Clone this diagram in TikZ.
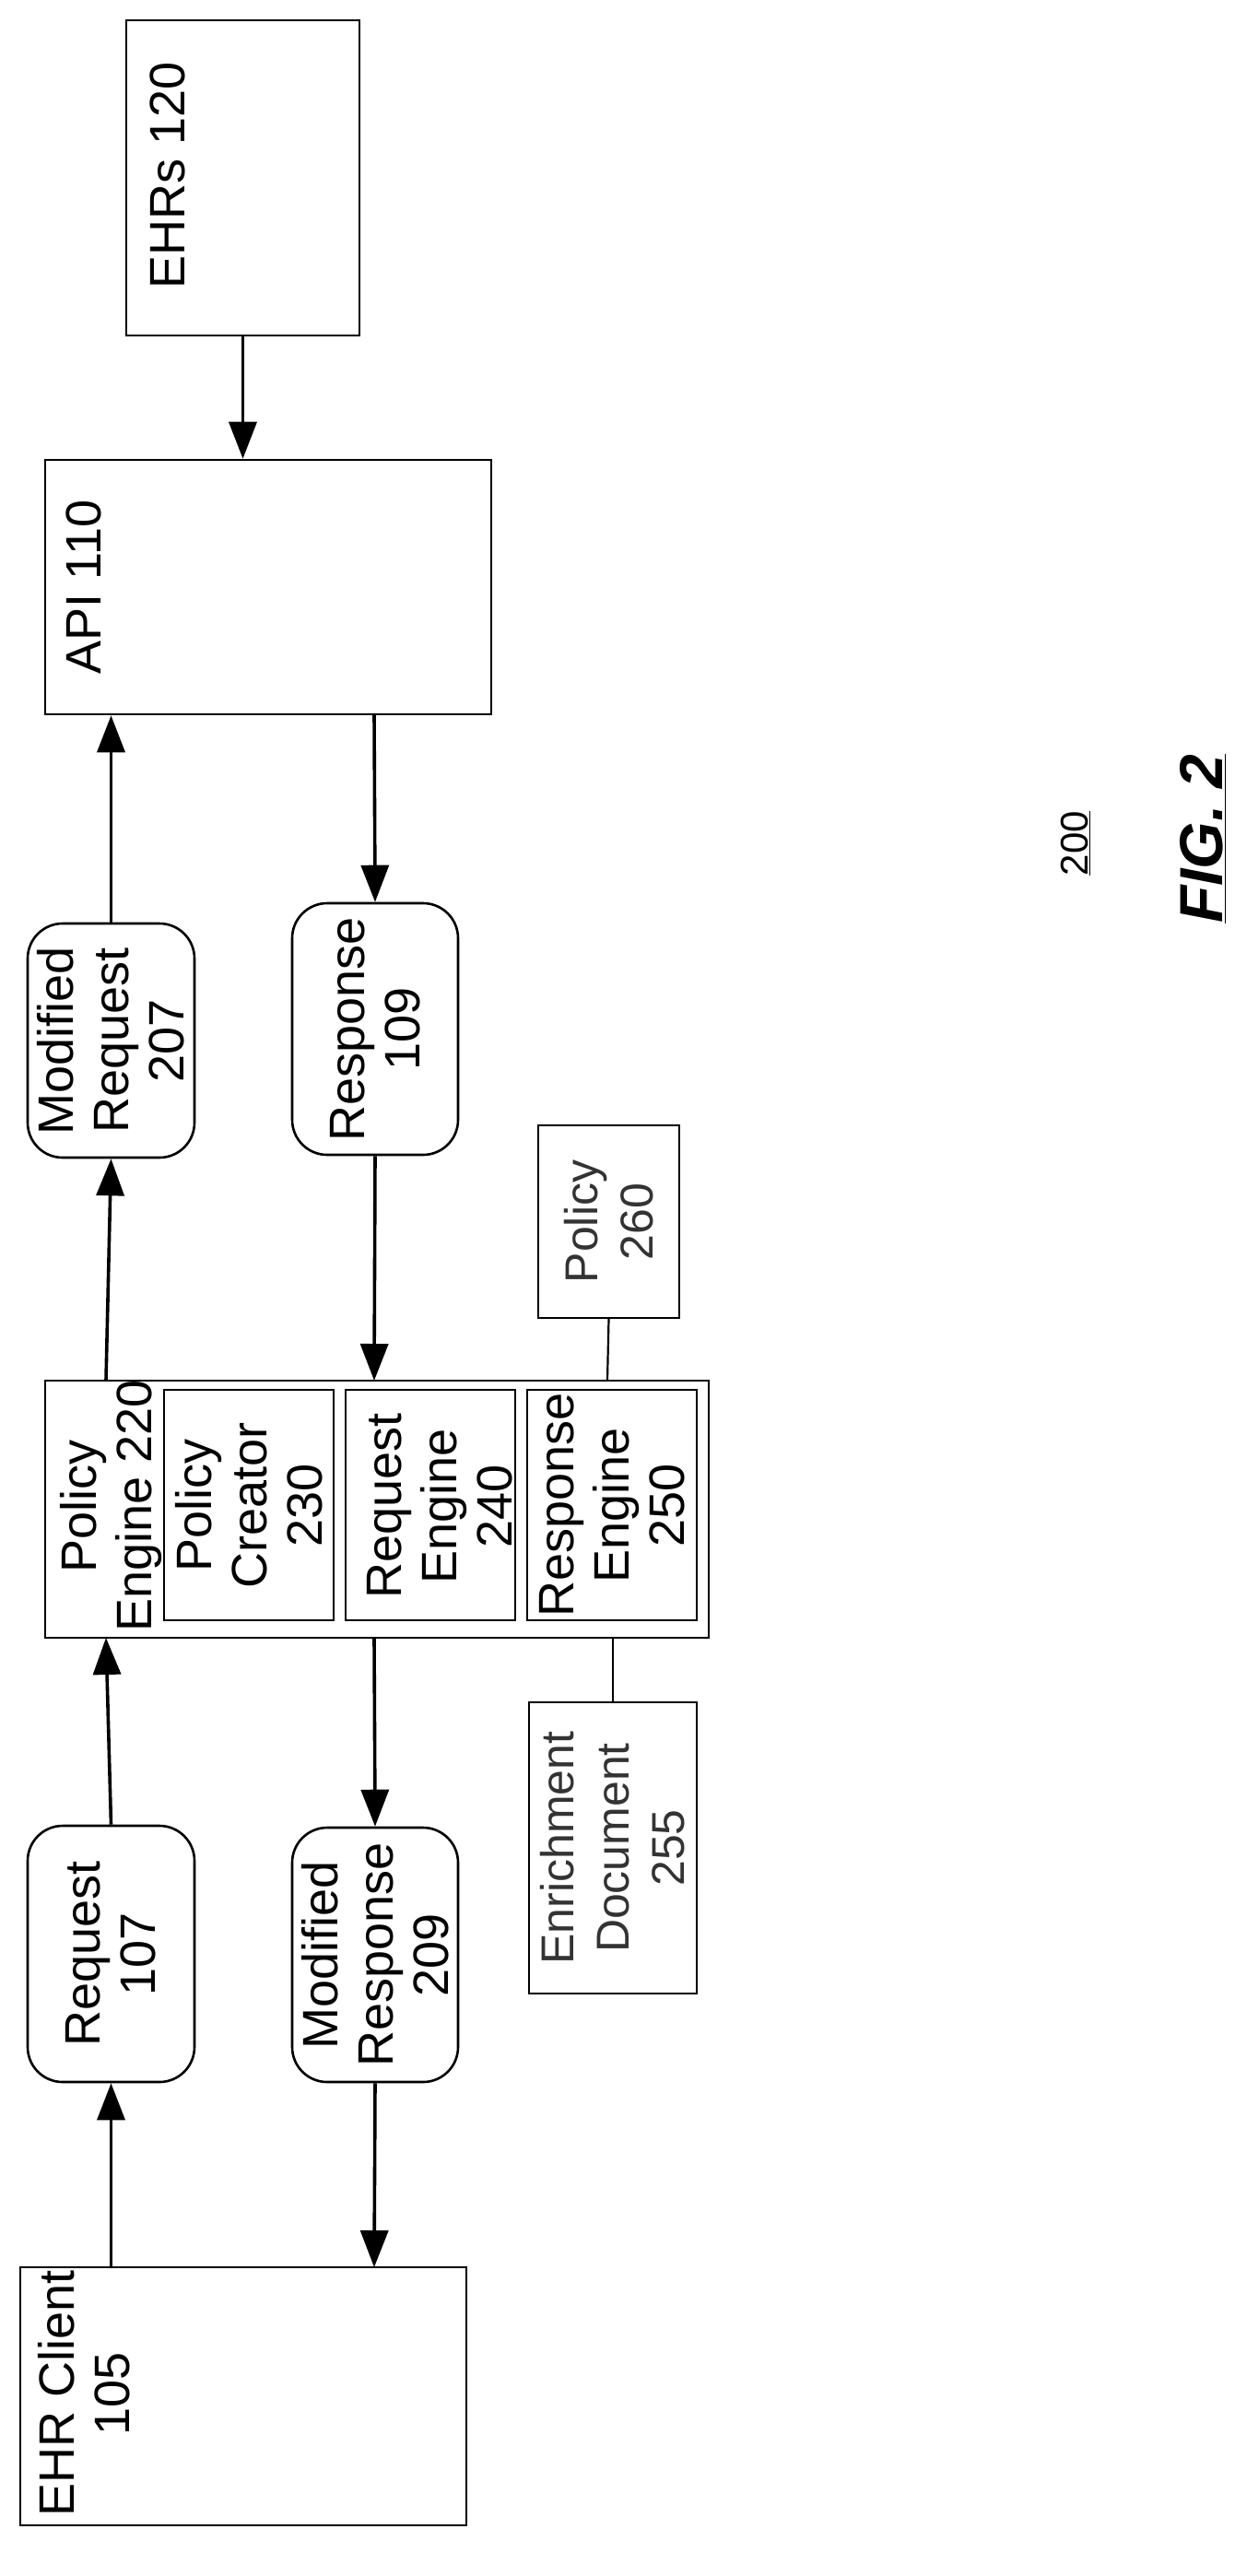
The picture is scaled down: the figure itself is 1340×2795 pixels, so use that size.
\documentclass[tikz,border=0pt]{standalone}
\usepackage{fontspec}
\setmainfont{Liberation Sans}
\usetikzlibrary{arrows.meta}
\begin{document}
\begin{tikzpicture}[x=1pt,y=-1pt,
  box/.style={draw,line width=2.6pt,inner sep=0pt},
  rbox/.style={draw,line width=2.6pt,rounded corners=38pt,inner sep=0pt},
  thin box/.style={draw,line width=2.2pt,inner sep=0pt},
  txt/.style={rotate=90,align=center,font=\fontsize{54}{60}\selectfont,inner sep=0pt},
  ltxt/.style={rotate=90,align=center,font=\fontsize{50}{60}\selectfont,inner sep=0pt,text=black!80},
  arr/.style={line width=3.6pt,-{Triangle[length=40pt,width=30pt]}},
  ln/.style={line width=2.2pt}]
\useasboundingbox (0,0) rectangle (1340,2795);
% boxes
\node[box,minimum width=253pt,minimum height=342pt] (ehrs) at (263.5,193) {};
\node[box,minimum width=484pt,minimum height=276pt] (api) at (291,637) {};
\node[rbox,minimum width=181pt,minimum height=254pt] (modreq) at (120.5,1129) {};
\node[rbox,minimum width=180pt,minimum height=273pt] (resp) at (407,1116.5) {};
\node[thin box,minimum width=153pt,minimum height=209pt] (pol) at (660.5,1325.5) {};
\node[box,minimum width=720pt,minimum height=279pt] (pe) at (409,1637.5) {};
\node[box,minimum width=184pt,minimum height=250pt] (pc) at (270,1633) {};
\node[box,minimum width=184pt,minimum height=250pt] (re) at (467,1633) {};
\node[box,minimum width=184pt,minimum height=250pt] (rse) at (664,1633) {};
\node[thin box,minimum width=182pt,minimum height=316pt] (enr) at (665,2005) {};
\node[rbox,minimum width=181pt,minimum height=278pt] (req) at (120.5,2120) {};
\node[rbox,minimum width=180pt,minimum height=276pt] (modresp) at (407,2121) {};
\node[box,minimum width=484pt,minimum height=280pt] (cli) at (264,2600) {};
% texts
\node[txt] (t1) at (182,190) {EHRs 120};
\node[txt] (t2) at (91,637) {API 110};
\node[txt] (t3) at (modreq) {Modified\\Request\\207};
\node[txt] (t4) at (resp) {Response\\109};
\node[ltxt] (t5) at (pol) {Policy\\260};
\node[txt] (t6) at (121,1634) {Policy\\Engine 220};
\node[txt] (t7) at (pc) {Policy\\Creator\\230};
\node[txt] (t8) at (477,1634) {Request\\Engine\\240};
\node[txt] (t9) at (rse) {Response\\Engine\\250};
\node[ltxt] (t10) at (enr) {Enrichment\\Document\\255};
\node[txt] (t11) at (req) {Request\\107};
\node[txt] (t12) at (modresp) {Modified\\Response\\209};
\node[txt] (t13) at (91,2597) {EHR Client\\105};
\node[rotate=90,inner sep=0pt,font=\fontsize{42}{48}\selectfont] (n200) at (1167,915) {\underline{200}};
\node[rotate=90,inner sep=0pt,font=\fontsize{66}{72}\selectfont\bfseries\itshape] (fig) at (1305,910) {\underline{FIG. 2}};
% connectors
\draw[arr] (ehrs.south) -- (ehrs.south |- api.north);
\draw[arr] (modreq.north) -- (modreq.north |- api.south);
\draw[arr] (406,775) -- (resp.north);
\draw[arr] (resp.south) -- (406,1498);
\draw[arr] (115,1498) -- (modreq.south);
\draw[arr] (req.north) -- (115,1777);
\draw[arr] (cli.north -| req) -- (req.south);
\draw[arr] (406,1777) -- (modresp.north);
\draw[arr] (modresp.south) -- (406,2460);
\draw[ln] (pol.south) -- (659,1498);
\draw[ln] (665,1777) -- (enr.north);
\end{tikzpicture}
\end{document}
